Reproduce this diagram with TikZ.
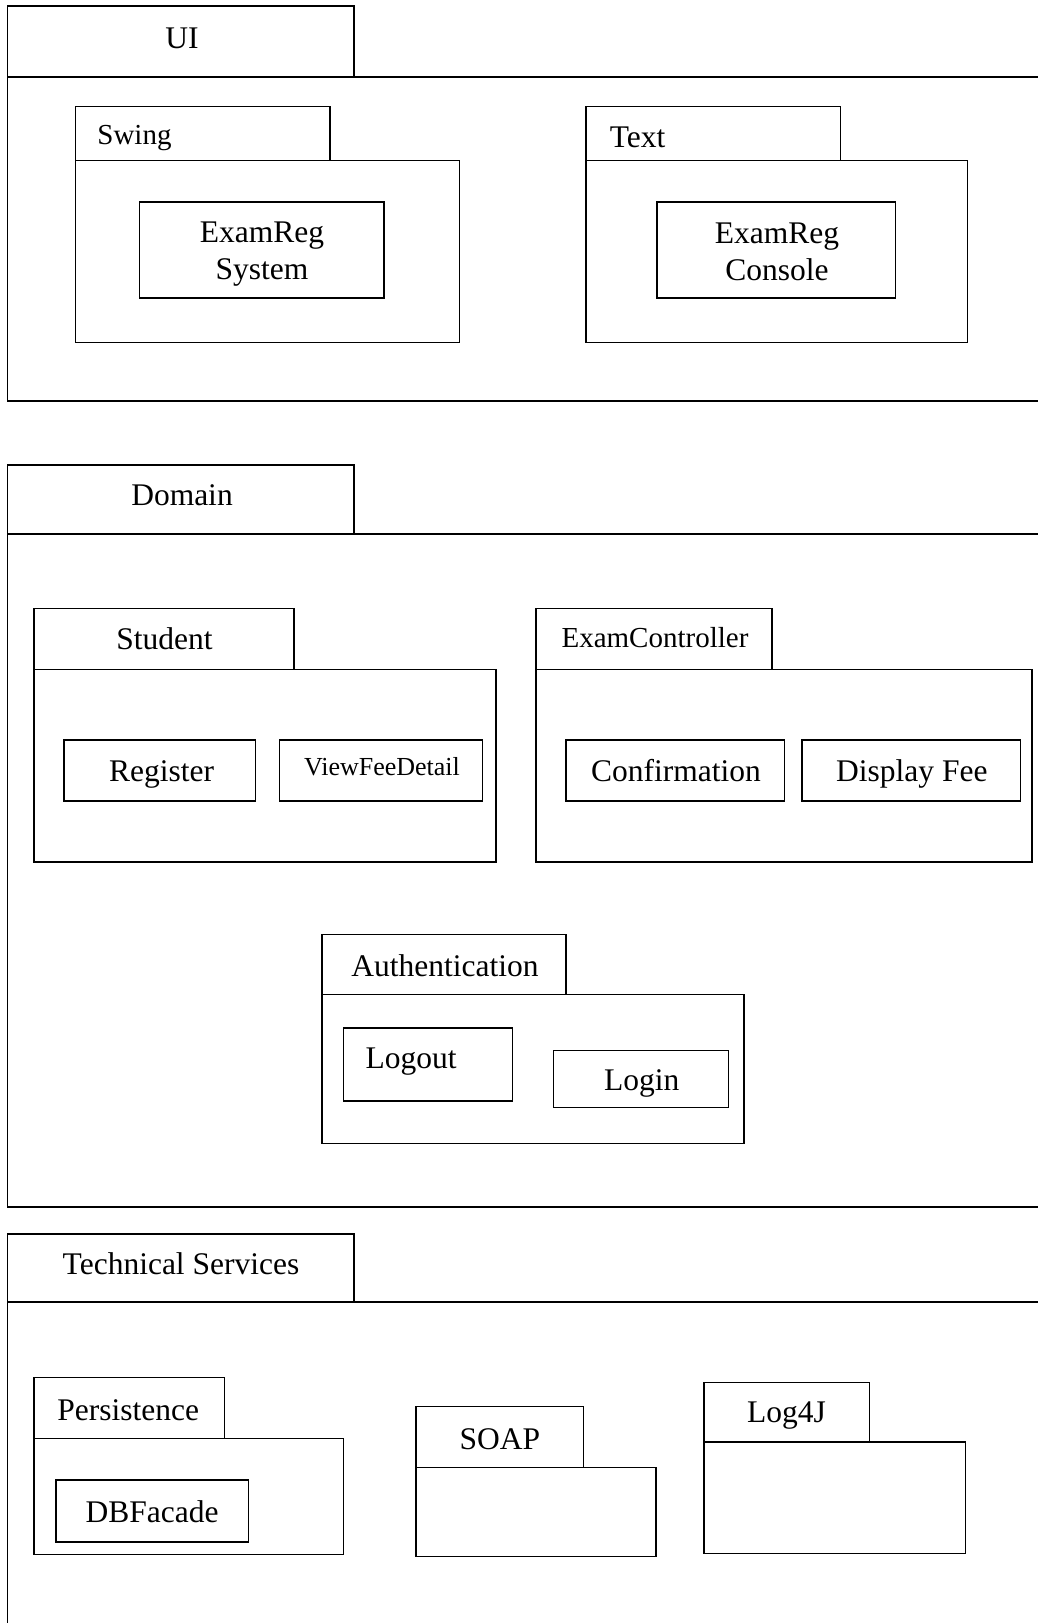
\documentclass[tikz,border=0pt]{standalone}
\usepackage{fontspec}
\setmainfont{Liberation Serif}
\begin{document}
\begin{tikzpicture}[x=1pt,y=-1pt,
  outerline/.style={line width=1.8pt},
  boxline/.style={line width=1.5pt},
  lbl/.style={inner sep=0pt,font=\fontsize{31.5}{37}\selectfont,text height=21pt,text depth=0pt},
  lbltwo/.style={inner sep=0pt,font=\fontsize{31.5}{37}\selectfont,align=center},
  lblsmall/.style={inner sep=0pt,font=\fontsize{29}{34}\selectfont,text height=19.4pt,text depth=0pt},
  lbltiny/.style={inner sep=0pt,font=\fontsize{26}{30}\selectfont,text height=17.4pt,text depth=0pt}]
\useasboundingbox[fill=white] (0,0) rectangle (1037,1623);
% ---------------- UI ----------------
\draw[outerline] (7.5,77) rectangle (354,6);
\draw[outerline] (1040,77) -- (7.5,77) -- (7.5,401) -- (1040,401);
\node[lbl] (ui) at (182,38) {UI};
% Swing
\draw[boxline] (75.6,106.6) rectangle (330,160.4);
\draw[boxline] (75.6,160.4) rectangle (459.5,342.6);
\node[lblsmall] (swing) at (134.5,134.5) {Swing};
\draw[boxline] (139.7,201.8) rectangle (384,298);
\node[lbltwo] (examregsys) at (262,254) {ExamReg\\System};
% Text
\draw[boxline] (585.8,106.6) rectangle (840.4,160.4);
\draw[boxline] (585.8,160.4) rectangle (967.7,342.6);
\node[lbl] (textpkg) at (637.6,136.6) {Text};
\draw[boxline] (657.2,201.8) rectangle (895.3,298);
\node[lbltwo] (examregcon) at (777,252) {ExamReg\\Console};
% ---------------- Domain ----------------
\draw[outerline] (7.5,534) rectangle (354,464.7);
\draw[outerline] (1040,534) -- (7.5,534) -- (7.5,1206.8) -- (1040,1206.8);
\node[lbl] (domain) at (182,494.7) {Domain};
% Student
\draw[boxline] (34.2,608.6) rectangle (294,669.6);
\draw[boxline] (34.2,669.6) rectangle (495.8,862);
\node[lbl] (student) at (164.6,638.6) {Student};
\draw[boxline] (64.2,740) rectangle (255.6,801);
\node[lbl] (register) at (161.5,771) {Register};
\draw[boxline] (279.5,740) rectangle (482.3,801);
\node[lbltiny] (viewfee) at (382,767) {ViewFeeDetail};
% ExamController
\draw[boxline] (536.1,608.6) rectangle (772,669.6);
\draw[boxline] (536.1,669.6) rectangle (1031.9,862);
\node[lblsmall] (examctrl) at (655,637.6) {ExamController};
\draw[boxline] (566.1,740) rectangle (784.5,801);
\node[lbl] (confirm) at (675.9,771) {Confirmation};
\draw[boxline] (802,740) rectangle (1020.5,801);
\node[lbl] (dispfee) at (911.8,771) {Display Fee};
% Authentication
\draw[boxline] (321.9,934.6) rectangle (566.1,994.6);
\draw[boxline] (321.9,994.6) rectangle (744.2,1143.7);
\node[lbl] (auth) at (445,965.7) {Authentication};
\draw[boxline] (343.6,1027.8) rectangle (512.3,1101.2);
\node[lbl] (logout) at (411,1057.8) {Logout};
\draw[boxline] (553.7,1050.5) rectangle (728.6,1107.5);
\node[lbl] (login) at (641.7,1079.5) {Login};
% ---------------- Technical Services ----------------
\draw[outerline] (7.5,1302) rectangle (354,1233.7);
\draw[outerline] (1040,1302) -- (7.5,1302) -- (7.5,1630);
\node[lbl] (techserv) at (181,1263.7) {Technical Services};
% Persistence
\draw[boxline] (34.2,1377.6) rectangle (224.6,1438.7);
\draw[boxline] (34.2,1438.7) rectangle (343.6,1554.6);
\node[lbl] (persist) at (128.3,1409.6) {Persistence};
\draw[boxline] (55.9,1480) rectangle (248.4,1542.2);
\node[lbl] (dbfacade) at (152.1,1512.1) {DBFacade};
% SOAP
\draw[boxline] (416,1406.6) rectangle (583.7,1467.6);
\draw[boxline] (416,1467.6) rectangle (656.2,1556.7);
\node[lbl] (soap) at (499.9,1438.6) {SOAP};
% Log4J
\draw[boxline] (703.8,1382.7) rectangle (869.4,1441.8);
\draw[boxline] (703.8,1441.8) rectangle (965.7,1553.5);
\node[lbl] (log4j) at (786.6,1411.7) {Log4J};
\end{tikzpicture}
\end{document}
